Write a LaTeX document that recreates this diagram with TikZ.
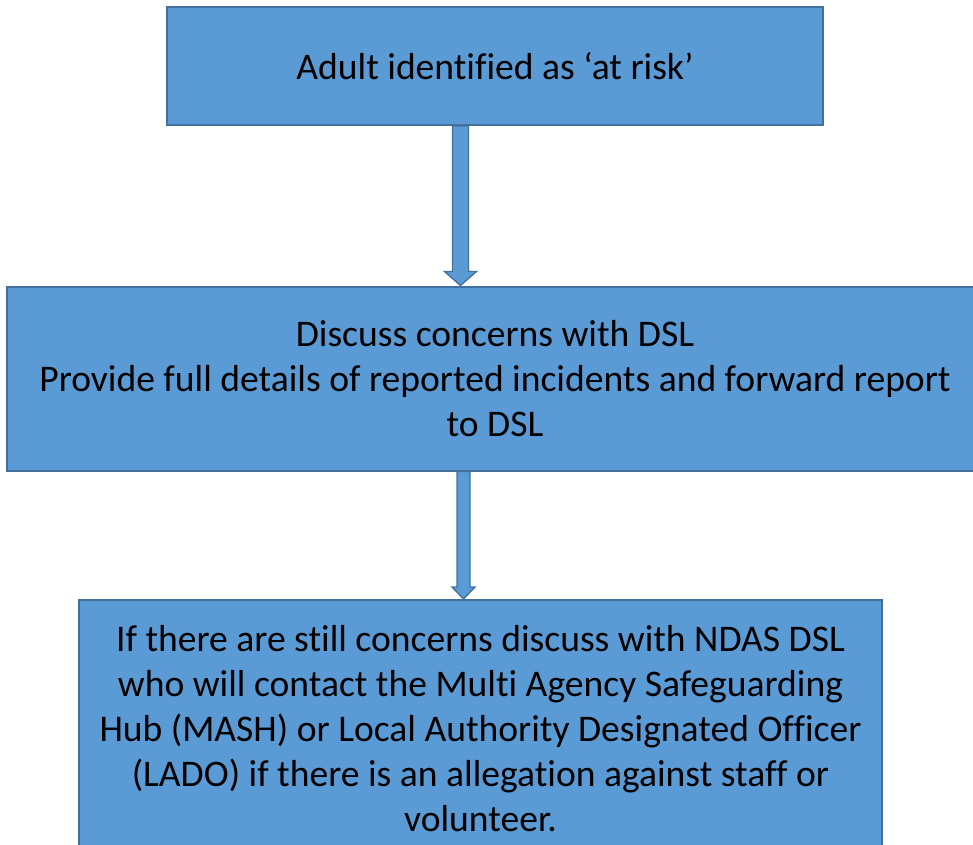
\documentclass[tikz,border=0pt]{standalone}
\usepackage{fontspec}
\setmainfont{Carlito}[Ligatures=NoCommon]
\usetikzlibrary{calc}
\definecolor{boxfill}{HTML}{5B9BD5}
\definecolor{boxline}{HTML}{41719C}
\tikzset{
  flowbox/.style={draw=boxline, fill=boxfill, line width=1.5pt, rectangle, align=center,
    inner sep=0pt, font=\fontsize{28.2}{33.75}\selectfont, text=black},
  blockarrow/.style={draw=boxline, fill=boxfill, line width=1pt, line join=miter}
}
\begin{document}
\begin{tikzpicture}[x=0.75pt,y=-0.75pt]
\useasboundingbox (0,0) rectangle (973,844);
\node[flowbox, minimum width=656*0.75pt, minimum height=118*0.75pt] (b1) at (495,66)
  {Adult identified as ‘at risk’};
\node[flowbox, minimum width=976*0.75pt, minimum height=184*0.75pt] (b2) at (495,378.5)
  {Discuss concerns with DSL\\Provide full details of reported incidents and forward report\\to DSL};
\node[flowbox, minimum width=803*0.75pt, minimum height=258*0.75pt] (b3) at (480.5,729)
  {If there are still concerns discuss with NDAS DSL\\who will contact the Multi Agency Safeguarding\\Hub (MASH) or Local Authority Designated Officer\\(LADO) if there is an allegation against staff or\\volunteer.};
\path (460.5,0) coordinate (a1x) (463.5,0) coordinate (a2x);
\draw[blockarrow] ($(b1.south -| a1x)+(-8,0)$) -- ($(b2.north -| a1x)+(-8,-14)$) -- ($(b2.north -| a1x)+(-16,-14)$)
  -- (b2.north -| a1x) -- ($(b2.north -| a1x)+(16,-14)$) -- ($(b2.north -| a1x)+(8,-14)$) -- ($(b1.south -| a1x)+(8,0)$) -- cycle;
\draw[blockarrow] ($(b2.south -| a2x)+(-6.5,0)$) -- ($(b3.north -| a2x)+(-6.5,-12)$) -- ($(b3.north -| a2x)+(-11.5,-12)$)
  -- (b3.north -| a2x) -- ($(b3.north -| a2x)+(11.5,-12)$) -- ($(b3.north -| a2x)+(6.5,-12)$) -- ($(b2.south -| a2x)+(6.5,0)$) -- cycle;
\end{tikzpicture}
\end{document}
